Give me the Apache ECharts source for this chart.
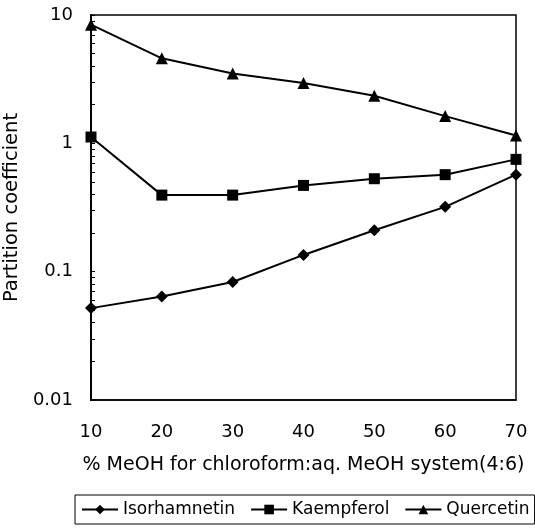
<!DOCTYPE html>
<html><head><meta charset="utf-8">
<script src="https://cdn.jsdelivr.net/npm/echarts@6/dist/echarts.min.js"></script>
<style>html,body{margin:0;padding:0;background:#fff}#c{width:535px;height:528px}</style>
</head><body><div id="c"></div>
<script>
const xValues = [10, 20, 30, 40, 50, 60, 70];
const isorhamnetin = [0.052, 0.064, 0.083, 0.135, 0.21, 0.32, 0.57];
const kaempferol = [1.12, 0.395, 0.395, 0.47, 0.53, 0.57, 0.75];
const quercetin = [8.4, 4.6, 3.5, 2.95, 2.35, 1.63, 1.15];
const yTickLabels = [0.01, 0.1, 1, 10];
const yMinorTicks = [];
for (let d = 0.01; d < 10; d *= 10) {
  for (let k = 1; k < 10; k++) yMinorTicks.push(+(d * k).toPrecision(3));
}
yMinorTicks.push(10);

const FONT = 'DejaVu Sans';
const chart = echarts.init(document.getElementById('c'));
function mk(name, data, symbol, size) {
  return {
    name, type: 'line', data: xValues.map((x, i) => [x, data[i]]),
    symbol, symbolSize: size, showSymbol: true,
    lineStyle: { color: '#000', width: 2 },
    itemStyle: { color: '#000' },
    animation: false
  };
}
chart.setOption({
  animation: false,
  textStyle: { fontFamily: FONT },
  grid: { left: 91, right: 19, top: 15, bottom: 128, containLabel: false, outerBoundsMode: 'none',
    show: true, borderColor: '#000', borderWidth: 1.5, backgroundColor: 'transparent' },
  legend: {
    left: 75, top: 495, width: 480,
    data: ['Isorhamnetin', 'Kaempferol', 'Quercetin'],
    itemWidth: 36, itemHeight: 12, itemGap: 15,
    padding: [6, 5, 6, 6],
    borderColor: '#000', borderWidth: 1,
    textStyle: { fontFamily: FONT, fontSize: 17, color: '#000' }
  },
  xAxis: {
    type: 'value', min: 10, max: 70, interval: 10,
    name: '% MeOH for chloroform:aq. MeOH system(4:6)',
    nameLocation: 'middle', nameGap: 56,
    nameTextStyle: { fontFamily: FONT, fontSize: 19, color: '#000' },
    axisLine: { show: true, onZero: false, lineStyle: { color: '#000', width: 1.5 } },
    axisTick: { show: false },
    splitLine: { show: false },
    axisLabel: { fontFamily: FONT, fontSize: 18, color: '#000', margin: 23 }
  },
  yAxis: {
    type: 'log', logBase: 10, min: 0.01, max: 10,
    name: 'Partition coefficient',
    nameLocation: 'middle', nameGap: 66, nameRotate: 90,
    nameTextStyle: { fontFamily: FONT, fontSize: 19.5, color: '#000' },
    axisLine: { show: true, lineStyle: { color: '#000', width: 2 } },
    axisTick: { show: true, inside: true, length: 4, lineStyle: { color: '#000', width: 1 }, customValues: yMinorTicks },
    splitLine: { show: false },
    axisLabel: { fontFamily: FONT, fontSize: 18, color: '#000', margin: 18, customValues: yTickLabels,
      formatter: v => String(+(+v).toPrecision(3)) }
  },
  series: [
    mk('Isorhamnetin', isorhamnetin, 'diamond', 12),
    mk('Kaempferol', kaempferol, 'rect', 11),
    mk('Quercetin', quercetin, 'triangle', 12)
  ]
});
</script></body></html>
